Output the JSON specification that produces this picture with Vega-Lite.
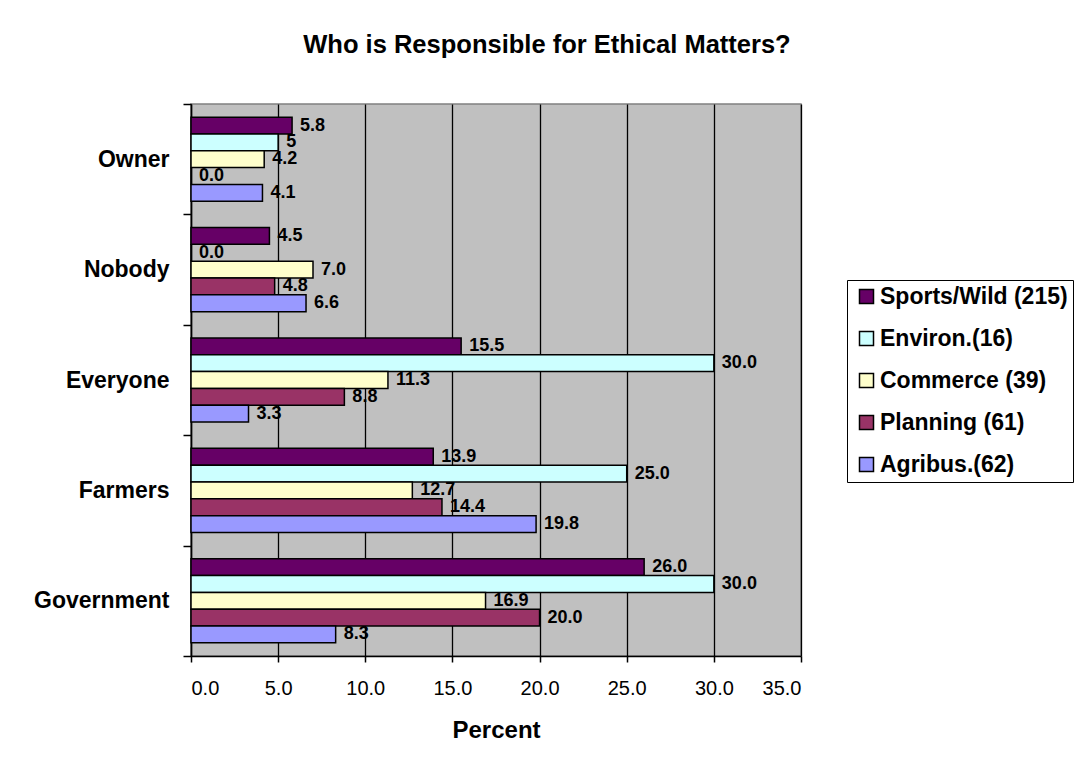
{
  "$schema": "https://vega.github.io/schema/vega-lite/v6.json",
  "width": 610,
  "height": 552,
  "autosize": {"type": "none"},
  "padding": {"left": 191, "top": 104, "right": 278, "bottom": 119},
  "background": "white",
  "title": {
    "text": "Who is Responsible for Ethical Matters?",
    "font": "Liberation Sans",
    "fontSize": 25.5,
    "fontWeight": "bold",
    "color": "black",
    "anchor": "middle",
    "frame": "group",
    "baseline": "alphabetic",
    "offset": 15,
    "dx": 51
  },
  "data": {
    "values": [
      {"who": "Owner", "group": "Sports/Wild (215)", "pct": 5.8, "label": "5.8"},
      {"who": "Owner", "group": "Environ.(16)", "pct": 5.0, "label": "5"},
      {"who": "Owner", "group": "Commerce (39)", "pct": 4.2, "label": "4.2"},
      {"who": "Owner", "group": "Planning (61)", "pct": 0.0, "label": "0.0"},
      {"who": "Owner", "group": "Agribus.(62)", "pct": 4.1, "label": "4.1"},
      {"who": "Nobody", "group": "Sports/Wild (215)", "pct": 4.5, "label": "4.5"},
      {"who": "Nobody", "group": "Environ.(16)", "pct": 0.0, "label": "0.0"},
      {"who": "Nobody", "group": "Commerce (39)", "pct": 7.0, "label": "7.0"},
      {"who": "Nobody", "group": "Planning (61)", "pct": 4.8, "label": "4.8"},
      {"who": "Nobody", "group": "Agribus.(62)", "pct": 6.6, "label": "6.6"},
      {"who": "Everyone", "group": "Sports/Wild (215)", "pct": 15.5, "label": "15.5"},
      {"who": "Everyone", "group": "Environ.(16)", "pct": 30.0, "label": "30.0"},
      {"who": "Everyone", "group": "Commerce (39)", "pct": 11.3, "label": "11.3"},
      {"who": "Everyone", "group": "Planning (61)", "pct": 8.8, "label": "8.8"},
      {"who": "Everyone", "group": "Agribus.(62)", "pct": 3.3, "label": "3.3"},
      {"who": "Farmers", "group": "Sports/Wild (215)", "pct": 13.9, "label": "13.9"},
      {"who": "Farmers", "group": "Environ.(16)", "pct": 25.0, "label": "25.0"},
      {"who": "Farmers", "group": "Commerce (39)", "pct": 12.7, "label": "12.7"},
      {"who": "Farmers", "group": "Planning (61)", "pct": 14.4, "label": "14.4"},
      {"who": "Farmers", "group": "Agribus.(62)", "pct": 19.8, "label": "19.8"},
      {"who": "Government", "group": "Sports/Wild (215)", "pct": 26.0, "label": "26.0"},
      {"who": "Government", "group": "Environ.(16)", "pct": 30.0, "label": "30.0"},
      {"who": "Government", "group": "Commerce (39)", "pct": 16.9, "label": "16.9"},
      {"who": "Government", "group": "Planning (61)", "pct": 20.0, "label": "20.0"},
      {"who": "Government", "group": "Agribus.(62)", "pct": 8.3, "label": "8.3"}
    ]
  },
  "encoding": {
    "y": {
      "field": "who",
      "type": "nominal",
      "sort": ["Owner", "Nobody", "Everyone", "Farmers", "Government"],
      "scale": {"paddingInner": 0, "paddingOuter": 0},
      "axis": {
        "title": null,
        "tickBand": "extent",
        "tickSize": 8,
        "tickColor": "black",
        "tickWidth": 1.5,
        "domainColor": "black",
        "domainWidth": 1.5,
        "labelFont": "Liberation Sans",
        "labelFontSize": 23,
        "labelFontWeight": "bold",
        "labelColor": "black",
        "labelPadding": 14,
        "labelLimit": 0
      }
    },
    "yOffset": {
      "field": "group",
      "type": "nominal",
      "sort": ["Sports/Wild (215)", "Environ.(16)", "Commerce (39)", "Planning (61)", "Agribus.(62)"],
      "scale": {"paddingInner": 0, "paddingOuter": 0.78}
    },
    "x": {
      "field": "pct",
      "type": "quantitative",
      "scale": {"domain": [0, 35], "nice": false},
      "axis": {
        "title": "Percent",
        "titleFont": "Liberation Sans",
        "titleFontSize": 24,
        "titleFontWeight": "bold",
        "titleColor": "black",
        "titlePadding": 20,
        "values": [0, 5, 10, 15, 20, 25, 30, 35],
        "format": ".1f",
        "grid": true,
        "gridColor": "black",
        "gridWidth": 1.3,
        "gridOpacity": 1,
        "tickSize": 6,
        "tickColor": "black",
        "tickWidth": 1.5,
        "domainColor": "black",
        "domainWidth": 1.5,
        "labelFont": "Liberation Sans",
        "labelFontSize": 20,
        "labelColor": "black",
        "labelPadding": 16
      }
    }
  },
  "layer": [
    {
      "mark": {"type": "bar", "stroke": "black", "strokeWidth": 1.5, "opacity": 1},
      "encoding": {
        "color": {
          "field": "group",
          "type": "nominal",
          "sort": ["Sports/Wild (215)", "Environ.(16)", "Commerce (39)", "Planning (61)", "Agribus.(62)"],
          "scale": {
            "domain": ["Sports/Wild (215)", "Environ.(16)", "Commerce (39)", "Planning (61)", "Agribus.(62)"],
            "range": ["#660066", "#CCFFFF", "#FFFFCC", "#993366", "#9999FF"]
          },
          "legend": {
            "title": null,
            "orient": "none",
            "legendX": 656,
            "legendY": 176,
            "strokeColor": "black",
            "fillColor": "white",
            "padding": 5,
            "symbolOffset": 3,
            "symbolType": "square",
            "symbolSize": 196,
            "symbolStrokeColor": "black",
            "symbolStrokeWidth": 1.5,
            "symbolOpacity": 1,
            "labelFont": "Liberation Sans",
            "labelFontSize": 23,
            "labelFontWeight": "bold",
            "labelColor": "black",
            "labelOffset": 2,
            "labelLimit": 0,
            "rowPadding": 18
          }
        }
      }
    },
    {
      "mark": {
        "type": "text",
        "align": "left",
        "baseline": "middle",
        "dx": 8,
        "font": "Liberation Sans",
        "fontSize": 18,
        "fontWeight": "bold",
        "color": "black"
      },
      "encoding": {
        "text": {"field": "label", "type": "nominal"}
      }
    }
  ],
  "config": {
    "view": {"stroke": "#808080", "strokeWidth": 1.5, "fill": "#C0C0C0"}
  }
}
